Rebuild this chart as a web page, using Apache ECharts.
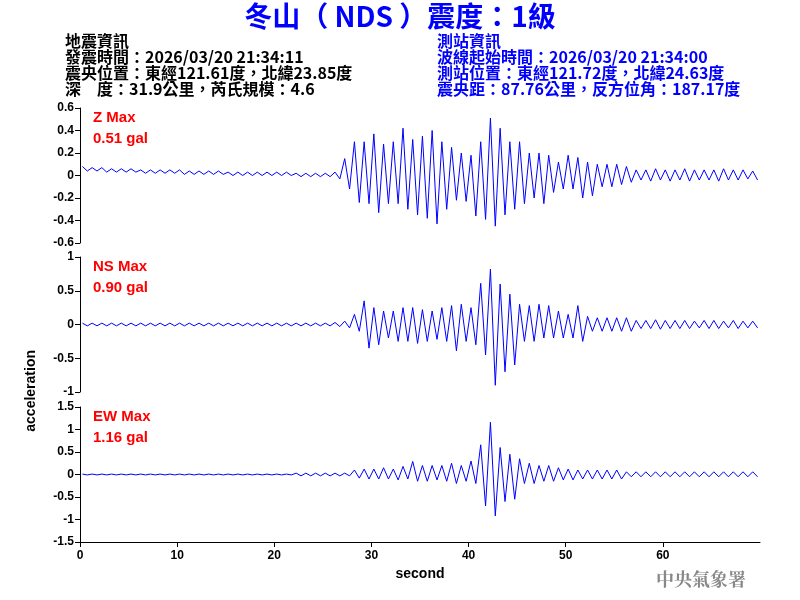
<!DOCTYPE html>
<html>
<head>
<meta charset="utf-8">
<script src="https://cdn.jsdelivr.net/npm/echarts@6/dist/echarts.min.js"></script>
<style>html,body{margin:0;padding:0;background:#fff}#chart{width:800px;height:600px}</style>
</head>
<body>
<div id="chart"></div>
<script>
// per-second peak (hi) and trough (lo), t = 0..69 s
var zHi = [0.08,0.07,0.07,0.06,0.06,0.06,0.05,0.05,0.05,0.05,
  0.05,0.04,0.04,0.04,0.04,0.03,0.03,0.03,0.03,0.03,
  0.03,0.03,0.02,0.02,0.02,0.02,0.03,0.15,0.30,0.30,
  0.37,0.28,0.30,0.42,0.32,0.35,0.40,0.30,0.25,0.20,
  0.18,0.30,0.51,0.42,0.30,0.30,0.20,0.20,0.18,0.12,
  0.18,0.16,0.12,0.10,0.10,0.10,0.08,0.05,0.05,0.06,
  0.05,0.05,0.06,0.05,0.05,0.05,0.06,0.05,0.05,0.04];
var zLo = [0.04,0.04,0.03,0.03,0.03,0.03,0.02,0.02,0.02,0.02,
  0.01,0.01,0.01,0.01,0.01,0.00,0.00,0.00,0.00,0.00,
  0.00,0.00,-0.01,-0.01,-0.01,-0.01,-0.03,-0.12,-0.24,-0.25,
  -0.33,-0.25,-0.25,-0.30,-0.35,-0.38,-0.43,-0.30,-0.22,-0.23,
  -0.36,-0.39,-0.45,-0.35,-0.30,-0.25,-0.20,-0.25,-0.15,-0.12,
  -0.12,-0.20,-0.18,-0.10,-0.10,-0.08,-0.06,-0.04,-0.05,-0.04,
  -0.05,-0.04,-0.05,-0.04,-0.04,-0.05,-0.04,-0.04,-0.03,-0.04];
var nsHi = [0.02,0.02,0.02,0.02,0.02,0.02,0.02,0.02,0.02,0.02,
  0.02,0.02,0.02,0.02,0.02,0.02,0.02,0.02,0.02,0.02,
  0.02,0.02,0.02,0.02,0.02,0.02,0.03,0.05,0.15,0.35,
  0.25,0.20,0.20,0.25,0.25,0.22,0.20,0.25,0.28,0.30,
  0.25,0.61,0.82,0.60,0.45,0.30,0.28,0.30,0.28,0.20,
  0.15,0.28,0.12,0.10,0.10,0.10,0.10,0.06,0.06,0.07,
  0.06,0.06,0.06,0.05,0.06,0.06,0.05,0.06,0.05,0.05];
var nsLo = [-0.02,-0.02,-0.02,-0.02,-0.02,-0.02,-0.02,-0.02,-0.02,-0.02,
  -0.02,-0.02,-0.02,-0.02,-0.02,-0.02,-0.02,-0.02,-0.02,-0.02,
  -0.02,-0.02,-0.02,-0.02,-0.02,-0.02,-0.03,-0.05,-0.10,-0.35,
  -0.30,-0.20,-0.25,-0.25,-0.28,-0.25,-0.22,-0.25,-0.39,-0.25,
  -0.30,-0.45,-0.90,-0.70,-0.60,-0.25,-0.25,-0.20,-0.20,-0.20,
  -0.20,-0.25,-0.10,-0.10,-0.10,-0.10,-0.10,-0.06,-0.06,-0.07,
  -0.06,-0.06,-0.06,-0.05,-0.06,-0.06,-0.05,-0.06,-0.05,-0.05];
var ewHi = [0.01,0.01,0.01,0.01,0.01,0.01,0.01,0.01,0.01,0.01,
  0.01,0.01,0.01,0.01,0.01,0.01,0.01,0.01,0.01,0.01,
  0.01,0.01,0.03,0.03,0.03,0.03,0.03,0.03,0.10,0.12,
  0.12,0.15,0.12,0.18,0.29,0.20,0.20,0.20,0.25,0.20,
  0.30,0.66,1.16,0.60,0.45,0.35,0.25,0.20,0.20,0.15,
  0.12,0.10,0.10,0.10,0.10,0.10,0.06,0.06,0.06,0.06,
  0.06,0.06,0.06,0.06,0.06,0.06,0.06,0.06,0.06,0.06];
var ewLo = [-0.01,-0.01,-0.01,-0.01,-0.01,-0.01,-0.01,-0.01,-0.01,-0.01,
  -0.01,-0.01,-0.01,-0.01,-0.01,-0.01,-0.01,-0.01,-0.01,-0.01,
  -0.01,-0.01,-0.03,-0.03,-0.03,-0.03,-0.03,-0.03,-0.08,-0.10,
  -0.10,-0.10,-0.12,-0.10,-0.15,-0.15,-0.12,-0.15,-0.20,-0.15,
  -0.20,-0.70,-0.92,-0.60,-0.55,-0.20,-0.20,-0.15,-0.15,-0.12,
  -0.12,-0.10,-0.10,-0.10,-0.10,-0.10,-0.05,-0.05,-0.05,-0.05,
  -0.05,-0.05,-0.05,-0.05,-0.05,-0.05,-0.05,-0.05,-0.05,-0.05];
var channels = ['Z', 'NS', 'EW'];
var maxLabels = ['0.51 gal', '0.90 gal', '1.16 gal'];
var yRanges = [[-0.6, 0.6, 0.2], [-1, 1, 0.5], [-1.5, 1.5, 0.5]];
var xTicks = [0, 10, 20, 30, 40, 50, 60];

function trace(hi, lo) {
  var pts = [];
  for (var i = 0; i < hi.length; i++) {
    pts.push([i + 0.25, hi[i]]);
    pts.push([i + 0.75, lo[i]]);
  }
  return pts;
}
var traces = [trace(zHi, zLo), trace(nsHi, nsLo), trace(ewHi, ewLo)];

var chart = echarts.init(document.getElementById('chart'));
var tops = [108, 257, 407];
var grids = [], xAxes = [], yAxes = [], series = [];
tops.forEach(function (top, i) {
  grids.push({left: 80, right: 40, top: top, height: 135});
  var last = i === 2;
  xAxes.push({
    type: 'value', gridIndex: i, min: 0, max: 70, interval: 10,
    axisLine: {show: last, onZero: false, lineStyle: {color: '#000'}},
    axisTick: {show: last, length: 5, lineStyle: {color: '#000'},
      customValues: xTicks},
    axisLabel: {show: last, color: '#000', fontSize: 12, fontWeight: 'bold', fontFamily: 'Arial',
      customValues: xTicks},
    splitLine: {show: false},
    name: last ? 'second' : '', nameLocation: 'middle', nameGap: 25,
    nameTextStyle: {color: '#000', fontSize: 14, fontWeight: 'bold', fontFamily: 'Arial'}
  });
  yAxes.push({
    type: 'value', gridIndex: i, min: yRanges[i][0], max: yRanges[i][1], interval: yRanges[i][2],
    axisLine: {show: true, lineStyle: {color: '#000'}},
    axisTick: {show: true, length: 5, lineStyle: {color: '#000'}},
    axisLabel: {color: '#000', fontSize: 12, fontWeight: 'bold', fontFamily: 'Arial', margin: 6},
    splitLine: {show: false}
  });
  series.push({
    type: 'line', xAxisIndex: i, yAxisIndex: i, data: traces[i], showSymbol: false,
    lineStyle: {color: '#0000ff', width: 1}, animation: false
  });
});

var graphic = [
  {type: 'text', left: 'center', top: 2, style: {text: '冬山（ NDS ）震度：1級', fill: '#0000ff',
    font: 'bold 28px "Noto Sans CJK TC", sans-serif'}}
];
var leftInfo = ['地震資訊', '發震時間：2026/03/20 21:34:11', '震央位置：東經121.61度，北緯23.85度', '深　度：31.9公里，芮氏規模：4.6'];
var rightInfo = ['測站資訊', '波線起始時間：2026/03/20 21:34:00', '測站位置：東經121.72度，北緯24.63度', '震央距：87.76公里，反方位角：187.17度'];
leftInfo.forEach(function (t, k) {
  graphic.push({type: 'text', left: 65, top: 33 + k * 16, style: {text: t, fill: '#000',
    font: 'bold 16px "Noto Sans CJK TC", sans-serif'}});
});
rightInfo.forEach(function (t, k) {
  graphic.push({type: 'text', left: 437, top: 33 + k * 16, style: {text: t, fill: '#0000ff',
    font: 'bold 16px "Noto Sans CJK TC", sans-serif'}});
});
channels.forEach(function (c, i) {
  graphic.push({type: 'text', left: 93, top: tops[i] + 2, style: {text: c + ' Max', fill: '#ff0000',
    font: 'bold 15px Arial, "Liberation Sans", sans-serif'}});
  graphic.push({type: 'text', left: 93, top: tops[i] + 23, style: {text: maxLabels[i], fill: '#ff0000',
    font: 'bold 15px Arial, "Liberation Sans", sans-serif'}});
});
graphic.push({type: 'text', left: 24, top: 350, rotation: Math.PI / 2,
  style: {text: 'acceleration', fill: '#000', font: 'bold 14px Arial, "Liberation Sans", sans-serif'}});
graphic.push({type: 'text', left: 656, top: 570, style: {text: '中央氣象署', fill: '#888',
  font: 'bold 18px "Noto Serif CJK TC", "Noto Sans CJK TC", serif'}});

chart.setOption({
  backgroundColor: '#fff',
  animation: false,
  grid: grids, xAxis: xAxes, yAxis: yAxes, series: series,
  graphic: graphic
});
</script>
</body>
</html>
